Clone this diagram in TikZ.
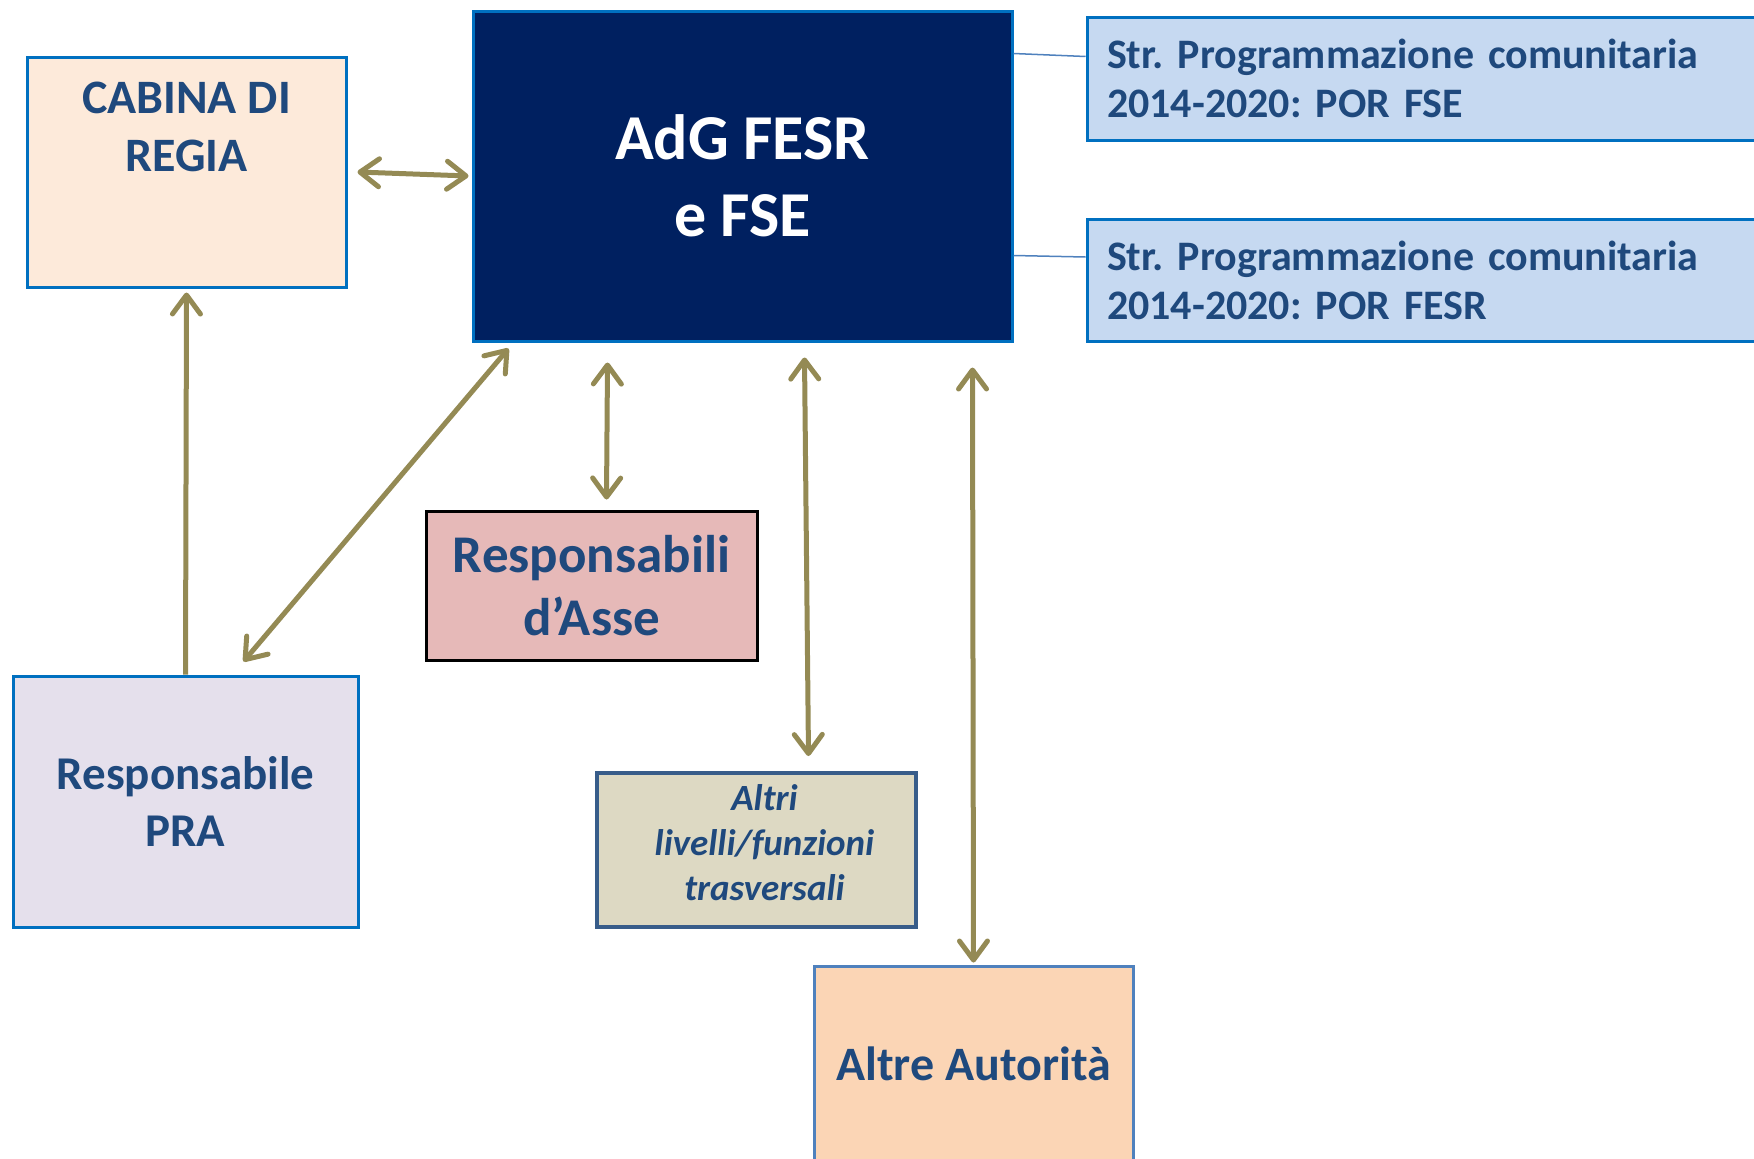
\documentclass[tikz,border=0pt]{standalone}
\usepackage{fontspec}
\setmainfont{Carlito}
\usepackage{xcolor}
\usepackage{tikz}
\usetikzlibrary{positioning,arrows.meta}
\frenchspacing

\definecolor{txtblue}{HTML}{1F497D}
\definecolor{edgeblue}{HTML}{0070C0}
\definecolor{navy}{HTML}{002060}
\definecolor{arrowolive}{HTML}{948A54}
\definecolor{peach}{HTML}{FDEADA}
\definecolor{strfill}{HTML}{C6D9F1}
\definecolor{rosefill}{HTML}{E6B9B8}
\definecolor{lilacfill}{HTML}{E5E0EC}
\definecolor{tanfill}{HTML}{DDD9C3}
\definecolor{tanedge}{HTML}{385D8A}
\definecolor{orangefill}{HTML}{FBD5B5}
\definecolor{softedge}{HTML}{4F81BD}

\begin{document}
\begin{tikzpicture}[x=1pt, y=-1pt,
    >={Straight Barb[length=19pt,width=28pt,round]},
    box/.style={draw=edgeblue, line width=3pt, align=center, text=txtblue, inner sep=0pt},
    boxtext/.style={align=center, text=txtblue, inner sep=0pt},
    biarrow/.style={draw=arrowolive, line width=5pt, <->},
    onearrow/.style={draw=arrowolive, line width=5pt, ->},
    link/.style={draw=softedge, line width=1.5pt}]
\useasboundingbox (0,0) rectangle (1754,1159);

\node[box, fill=peach, minimum width=319pt, minimum height=230pt] (cabina) at (186.5,172) {};
\node[boxtext, anchor=north, font=\bfseries\fontsize{48}{58}\selectfont]
    (cabinatxt) at ([yshift=-26pt]cabina.north) {CABINA DI\\REGIA};

\node[box, fill=navy, text=white, minimum width=539pt, minimum height=330pt,
    font=\bfseries\fontsize{64}{77}\selectfont] (adg) at (742.5,176) {AdG FESR\\e FSE};

\node[box, fill=strfill, minimum height=123pt, inner xsep=20pt,
    text width=650pt, align=left, font=\bfseries\fontsize{42}{49}\selectfont]
    (strfse) at (1432,78.5) {Str. Programmazione comunitaria\\2014-2020: POR FSE};
\node[box, fill=strfill, minimum height=122pt, inner xsep=20pt,
    text width=650pt, align=left, font=\bfseries\fontsize{42}{49}\selectfont]
    (strfesr) at (1432,280) {Str. Programmazione comunitaria\\2014-2020: POR FESR};

\node[box, draw=black, fill=rosefill, minimum width=331pt, minimum height=149pt,
    font=\bfseries\fontsize{53}{63}\selectfont] (asse) at (591.5,585.5) {Responsabili\\d’Asse};

\node[box, fill=lilacfill, minimum width=345pt, minimum height=251pt,
    font=\bfseries\fontsize{47}{57}\selectfont] (pra) at (185.5,801.5) {Responsabile\\PRA};

\node[box, draw=tanedge, line width=4pt, fill=tanfill,
    minimum width=319pt, minimum height=154pt] (altri) at (756.5,850) {};
\node[boxtext, font=\bfseries\itshape\fontsize{37}{45}\selectfont]
    (altritxt) at ([xshift=8pt,yshift=7pt]altri.center) {Altri\\livelli/funzioni\\trasversali};

\node[box, draw=softedge, fill=orangefill,
    minimum width=319pt, minimum height=196pt, font=\bfseries\fontsize{48}{58}\selectfont]
    (autorita) at (973.5,1064) {Altre Autorità};

\draw[link] ([yshift=-44pt]adg.north east) -- ([yshift=22pt]strfse.west);
\draw[link] ([yshift=-246pt]adg.north east) -- ([yshift=23pt]strfesr.west);

\draw[biarrow] ([xshift=10pt]cabina.east) -- ([xshift=-3pt]adg.west);
\draw[onearrow] (pra.north) -- ([yshift=-4pt]cabina.south);
\draw[biarrow] ([xshift=58pt,yshift=13pt]pra.north) -- ([xshift=37pt,yshift=-6pt]adg.south west);
\draw[biarrow] ([xshift=-135pt,yshift=-20pt]adg.south) -- ([xshift=15pt,yshift=10pt]asse.north);
\draw[biarrow] ([xshift=62pt,yshift=-15pt]adg.south) -- ([xshift=52pt,yshift=15pt]altri.north);
\draw[biarrow] ([xshift=230pt,yshift=-25pt]adg.south) -- ([yshift=2pt]autorita.north);

\end{tikzpicture}
\end{document}
